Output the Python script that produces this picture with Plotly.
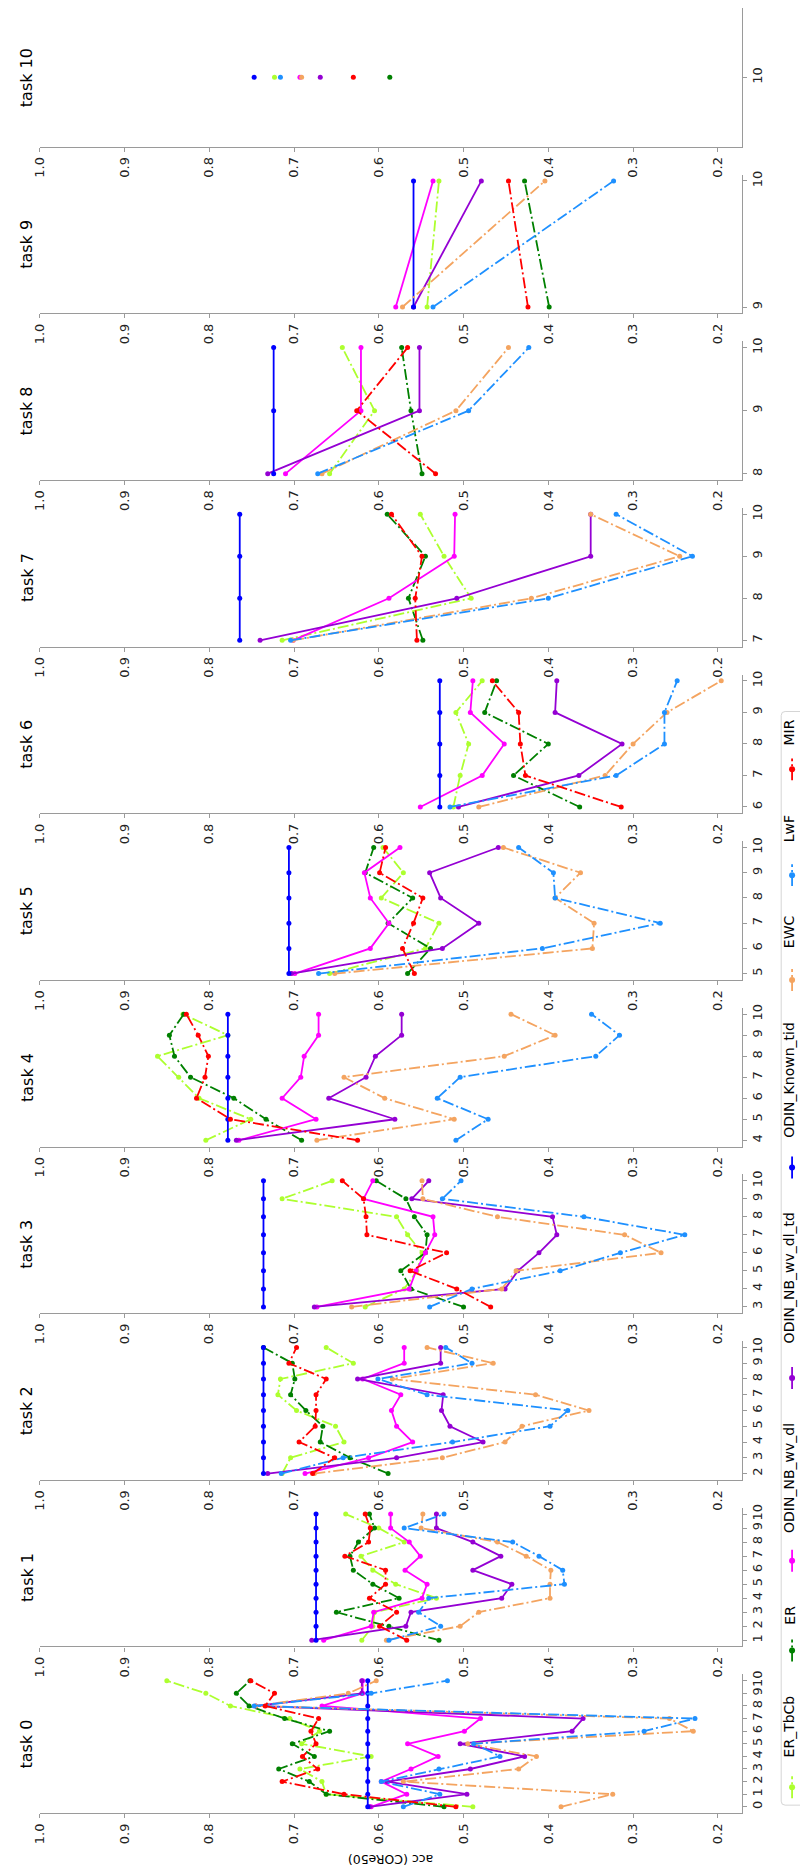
import plotly.graph_objects as go

# ---------------------------------------------------------------- data
TASKS = list(range(11))
ACC_TICKS = [1.0, 0.9, 0.8, 0.7, 0.6, 0.5, 0.4, 0.3, 0.2]
METHODS = ["ER_TbCb", "ER", "ODIN_NB_wv_dl", "ODIN_NB_wv_dl_td",
           "ODIN_Known_tid", "EWC", "LwF", "MIR"]

# one list per evaluated task k, holding acc after training tasks k..10
er_tbcb = [
    [0.489, 0.662, 0.667, 0.693, 0.609, 0.691, 0.670, 0.705, 0.775, 0.804, 0.850],
    [0.620, 0.607, 0.605, 0.532, 0.580, 0.607, 0.621, 0.570, 0.600, 0.639],
    [0.714, 0.704, 0.641, 0.651, 0.697, 0.719, 0.716, 0.630, 0.662],
    [0.616, 0.570, 0.555, 0.549, 0.566, 0.579, 0.714, 0.655],
    [0.804, 0.751, 0.812, 0.836, 0.861, 0.778, 0.831],
    [0.658, 0.545, 0.529, 0.597, 0.571, 0.595],
    [0.512, 0.504, 0.494, 0.509, 0.478],
    [0.714, 0.491, 0.523, 0.551],
    [0.658, 0.605, 0.643],
    [0.543, 0.529],
    [0.723],
]
er = [
    [0.523, 0.662, 0.682, 0.718, 0.676, 0.702, 0.658, 0.711, 0.753, 0.768, 0.752],
    [0.529, 0.588, 0.650, 0.576, 0.607, 0.630, 0.634, 0.624, 0.605, 0.611],
    [0.589, 0.634, 0.669, 0.666, 0.686, 0.704, 0.699, 0.702, 0.736],
    [0.500, 0.562, 0.574, 0.545, 0.543, 0.558, 0.568, 0.603],
    [0.691, 0.733, 0.771, 0.822, 0.841, 0.847, 0.830],
    [0.566, 0.539, 0.589, 0.560, 0.616, 0.606],
    [0.363, 0.441, 0.400, 0.475, 0.461],
    [0.548, 0.565, 0.545, 0.590],
    [0.549, 0.562, 0.573],
    [0.399, 0.428],
    [0.587],
]
odin_nb_wv_dl = [
    [0.609, 0.567, 0.597, 0.562, 0.530, 0.566, 0.499, 0.480, 0.667, 0.619, 0.619],
    [0.665, 0.609, 0.606, 0.549, 0.543, 0.569, 0.551, 0.564, 0.586, 0.586],
    [0.687, 0.612, 0.560, 0.579, 0.585, 0.574, 0.619, 0.570, 0.570],
    [0.673, 0.564, 0.556, 0.545, 0.534, 0.536, 0.618, 0.607],
    [0.765, 0.674, 0.714, 0.692, 0.688, 0.671, 0.671],
    [0.699, 0.610, 0.588, 0.610, 0.617, 0.575],
    [0.551, 0.478, 0.452, 0.492, 0.489],
    [0.701, 0.588, 0.511, 0.510],
    [0.710, 0.621, 0.621],
    [0.580, 0.536],
    [0.693],
]
odin_nb_wv_dl_td = [
    [0.611, 0.496, 0.590, 0.492, 0.428, 0.504, 0.372, 0.359, 0.745, 0.620, 0.620],
    [0.679, 0.568, 0.562, 0.455, 0.443, 0.489, 0.456, 0.489, 0.532, 0.532],
    [0.731, 0.579, 0.477, 0.516, 0.526, 0.524, 0.625, 0.527, 0.527],
    [0.676, 0.451, 0.436, 0.411, 0.390, 0.395, 0.561, 0.541],
    [0.768, 0.581, 0.659, 0.615, 0.604, 0.573, 0.573],
    [0.703, 0.525, 0.482, 0.527, 0.540, 0.459],
    [0.506, 0.364, 0.313, 0.392, 0.390],
    [0.740, 0.508, 0.350, 0.350],
    [0.731, 0.552, 0.552],
    [0.559, 0.479],
    [0.669],
]
odin_known_tid = [
    [0.613, 0.613, 0.613, 0.613, 0.613, 0.613, 0.613, 0.613, 0.613, 0.613, 0.613],
    [0.674, 0.674, 0.674, 0.674, 0.674, 0.674, 0.674, 0.674, 0.674, 0.674],
    [0.736, 0.736, 0.736, 0.736, 0.736, 0.736, 0.736, 0.736, 0.736],
    [0.736, 0.736, 0.736, 0.736, 0.736, 0.736, 0.736, 0.736],
    [0.778, 0.778, 0.778, 0.778, 0.778, 0.778, 0.778],
    [0.706, 0.706, 0.706, 0.706, 0.706, 0.706],
    [0.528, 0.528, 0.528, 0.528, 0.528],
    [0.764, 0.764, 0.764, 0.764],
    [0.724, 0.724, 0.724],
    [0.559, 0.559],
    [0.747],
]
ewc = [
    [0.385, 0.324, 0.571, 0.435, 0.414, 0.495, 0.229, 0.257, 0.745, 0.636, 0.603],
    [0.591, 0.504, 0.482, 0.398, 0.398, 0.397, 0.426, 0.460, 0.550, 0.548],
    [0.676, 0.525, 0.451, 0.431, 0.352, 0.415, 0.584, 0.465, 0.543],
    [0.632, 0.455, 0.438, 0.267, 0.310, 0.460, 0.548, 0.549],
    [0.673, 0.511, 0.593, 0.641, 0.452, 0.392, 0.444],
    [0.652, 0.348, 0.346, 0.392, 0.362, 0.453],
    [0.482, 0.333, 0.300, 0.260, 0.196],
    [0.701, 0.420, 0.245, 0.350],
    [0.667, 0.509, 0.447],
    [0.572, 0.404],
    [0.691],
]
lwf = [
    [0.571, 0.528, 0.597, 0.529, 0.457, 0.488, 0.287, 0.227, 0.747, 0.609, 0.519],
    [0.588, 0.527, 0.553, 0.541, 0.381, 0.383, 0.411, 0.442, 0.570, 0.523],
    [0.715, 0.642, 0.513, 0.398, 0.377, 0.543, 0.601, 0.490, 0.521],
    [0.540, 0.490, 0.386, 0.315, 0.239, 0.358, 0.525, 0.503],
    [0.509, 0.471, 0.531, 0.504, 0.344, 0.316, 0.349],
    [0.671, 0.407, 0.268, 0.392, 0.394, 0.435],
    [0.516, 0.320, 0.263, 0.263, 0.248],
    [0.704, 0.400, 0.230, 0.320],
    [0.672, 0.494, 0.423],
    [0.536, 0.323],
    [0.716],
]
mir = [
    [0.509, 0.641, 0.714, 0.672, 0.690, 0.674, 0.680, 0.671, 0.734, 0.723, 0.751],
    [0.567, 0.599, 0.579, 0.611, 0.592, 0.592, 0.640, 0.612, 0.610, 0.616],
    [0.678, 0.652, 0.694, 0.675, 0.674, 0.674, 0.662, 0.706, 0.697],
    [0.468, 0.508, 0.563, 0.520, 0.614, 0.615, 0.618, 0.643],
    [0.625, 0.775, 0.815, 0.805, 0.801, 0.813, 0.827],
    [0.558, 0.572, 0.559, 0.548, 0.599, 0.592],
    [0.314, 0.427, 0.433, 0.435, 0.466],
    [0.555, 0.557, 0.549, 0.585],
    [0.533, 0.626, 0.566],
    [0.424, 0.447],
    [0.630],
]

SERIES = [er_tbcb, er, odin_nb_wv_dl, odin_nb_wv_dl_td, odin_known_tid, ewc, lwf, mir]

# ---------------------------------------------------------------- styles
DASHDOT = "11px,3px,2px,3px"
STYLES = {
    "ER_TbCb":          dict(color="#ADFF2F", dash=DASHDOT),
    "ER":               dict(color="#008000", dash=DASHDOT),
    "ODIN_NB_wv_dl":    dict(color="#FF00FF", dash="solid"),
    "ODIN_NB_wv_dl_td": dict(color="#9400D3", dash="solid"),
    "ODIN_Known_tid":   dict(color="#0000FF", dash="solid"),
    "EWC":              dict(color="#F4A460", dash=DASHDOT),
    "LwF":              dict(color="#1E90FF", dash=DASHDOT),
    "MIR":              dict(color="#FF0000", dash=DASHDOT),
}
FONT = "DejaVu Sans"
SPINE = "#9a9a9a"
TEXT = "#222222"
LINE_W = 1.8
MARK = 5

# ---------------------------------------------------------------- geometry (pixels)
W, H = 800, 1875
X_LEFT, X_RIGHT = 32, 741
ACC_RANGE = [1.0, 0.172]
FIRST_BOTTOM, PANEL_STEP, PANEL_H = 1813, 167, 139
TITLE_X = 19

# legend entries: centre of handle and of label along the vertical
LEG_HANDLE_X = 792
LEG_TEXT_X = 789
LEG_HANDLE_Y = [1787, 1650, 1560, 1377, 1166, 978, 873, 767]
LEG_TEXT_Y = [1726, 1615, 1477, 1277, 1078, 930, 827, 730]
LEG_BOX = (781, 709, 815, 1805)

fig = go.Figure()
layout = {}
annotations = []

for k in TASKS:
    i = k + 1
    xa = "x" if i == 1 else f"x{i}"
    ya = "y" if i == 1 else f"y{i}"
    bottom = FIRST_BOTTOM - PANEL_STEP * k
    top = bottom - PANEL_H
    n = 10 - k
    if n > 0:
        yr = [k - 0.05 * n, 10 + 0.05 * n]
    else:
        yr = [9.5, 10.5]
    tasks_here = TASKS[k:]

    for name, series in zip(METHODS, SERIES):
        st = STYLES[name]
        fig.add_trace(go.Scatter(
            x=series[k], y=tasks_here, xaxis=xa, yaxis=ya,
            mode="lines+markers", name=name, showlegend=False,
            line=dict(color=st["color"], width=LINE_W, dash=st["dash"]),
            marker=dict(color=st["color"], size=MARK),
            cliponaxis=False, hoverinfo="skip",
        ))

    layout["xaxis" if i == 1 else f"xaxis{i}"] = dict(
        domain=[X_LEFT / W, X_RIGHT / W], range=ACC_RANGE, anchor=ya,
        tickmode="array", tickvals=ACC_TICKS,
        ticktext=[f"{v:.1f}" for v in ACC_TICKS], tickangle=-90,
        ticks="outside", ticklen=4, tickwidth=1.2, tickcolor=SPINE,
        showline=True, linecolor=SPINE, linewidth=1.3,
        showgrid=False, zeroline=False, fixedrange=True,
        tickfont=dict(family=FONT, size=13, color=TEXT),
    )
    layout["yaxis" if i == 1 else f"yaxis{i}"] = dict(
        domain=[(H - bottom) / H, (H - top) / H], range=yr, anchor=xa,
        side="right", tickmode="array", tickvals=tasks_here,
        ticktext=[str(t) for t in tasks_here], tickangle=-90,
        ticks="outside", ticklen=4, tickwidth=1.2, tickcolor=SPINE,
        showline=True, linecolor=SPINE, linewidth=1.3,
        showgrid=False, zeroline=False, fixedrange=True,
        tickfont=dict(family=FONT, size=13, color=TEXT),
    )
    annotations.append(dict(
        xref="x12", yref="y12", x=TITLE_X, y=(top + bottom) / 2,
        text=f"task {k}", textangle=-90, showarrow=False,
        xanchor="center", yanchor="middle",
        font=dict(family=FONT, size=16, color="#000000"),
    ))

# full-page pixel axis used for the rotated legend and labels
layout["xaxis12"] = dict(domain=[0, 1], range=[0, W], anchor="y12",
                         visible=False, fixedrange=True)
layout["yaxis12"] = dict(domain=[0, 1], range=[H, 0], anchor="x12",
                         visible=False, fixedrange=True)

for name, hy, ty in zip(METHODS, LEG_HANDLE_Y, LEG_TEXT_Y):
    st = STYLES[name]
    fig.add_trace(go.Scatter(
        x=[LEG_HANDLE_X, LEG_HANDLE_X], y=[hy + 11, hy - 11],
        xaxis="x12", yaxis="y12",
        mode="lines", showlegend=False, hoverinfo="skip",
        line=dict(color=st["color"], width=LINE_W, dash=st["dash"]),
    ))
    fig.add_trace(go.Scatter(
        x=[LEG_HANDLE_X], y=[hy], xaxis="x12", yaxis="y12",
        mode="markers", showlegend=False, hoverinfo="skip",
        marker=dict(color=st["color"], size=MARK + 1),
    ))
    annotations.append(dict(
        xref="x12", yref="y12", x=LEG_TEXT_X, y=ty, text=name, textangle=-90,
        showarrow=False, xanchor="center", yanchor="middle",
        font=dict(family=FONT, size=14, color="#000000"),
    ))

annotations.append(dict(
    xref="x12", yref="y12", x=(X_LEFT + X_RIGHT) / 2, y=1860,
    text="acc (CORe50)", textangle=180, showarrow=False,
    xanchor="center", yanchor="middle",
    font=dict(family=FONT, size=12.5, color="#000000"),
))

x0, y0, x1, y1 = LEG_BOX
r = 4
legend_path = (f"M{x0 + r},{y0} L{x1},{y0} L{x1},{y1} L{x0 + r},{y1} "
               f"Q{x0},{y1} {x0},{y1 - r} L{x0},{y0 + r} Q{x0},{y0} {x0 + r},{y0} Z")

fig.update_layout(
    width=W, height=H,
    margin=dict(l=0, r=0, t=0, b=0),
    paper_bgcolor="white", plot_bgcolor="rgba(0,0,0,0)",
    showlegend=False,
    annotations=annotations,
    shapes=[dict(type="path", xref="x12", yref="y12", path=legend_path,
                 line=dict(color="#d5d5d5", width=1), fillcolor="white",
                 layer="below")],
    **layout,
)

fig.write_html("out.html")
